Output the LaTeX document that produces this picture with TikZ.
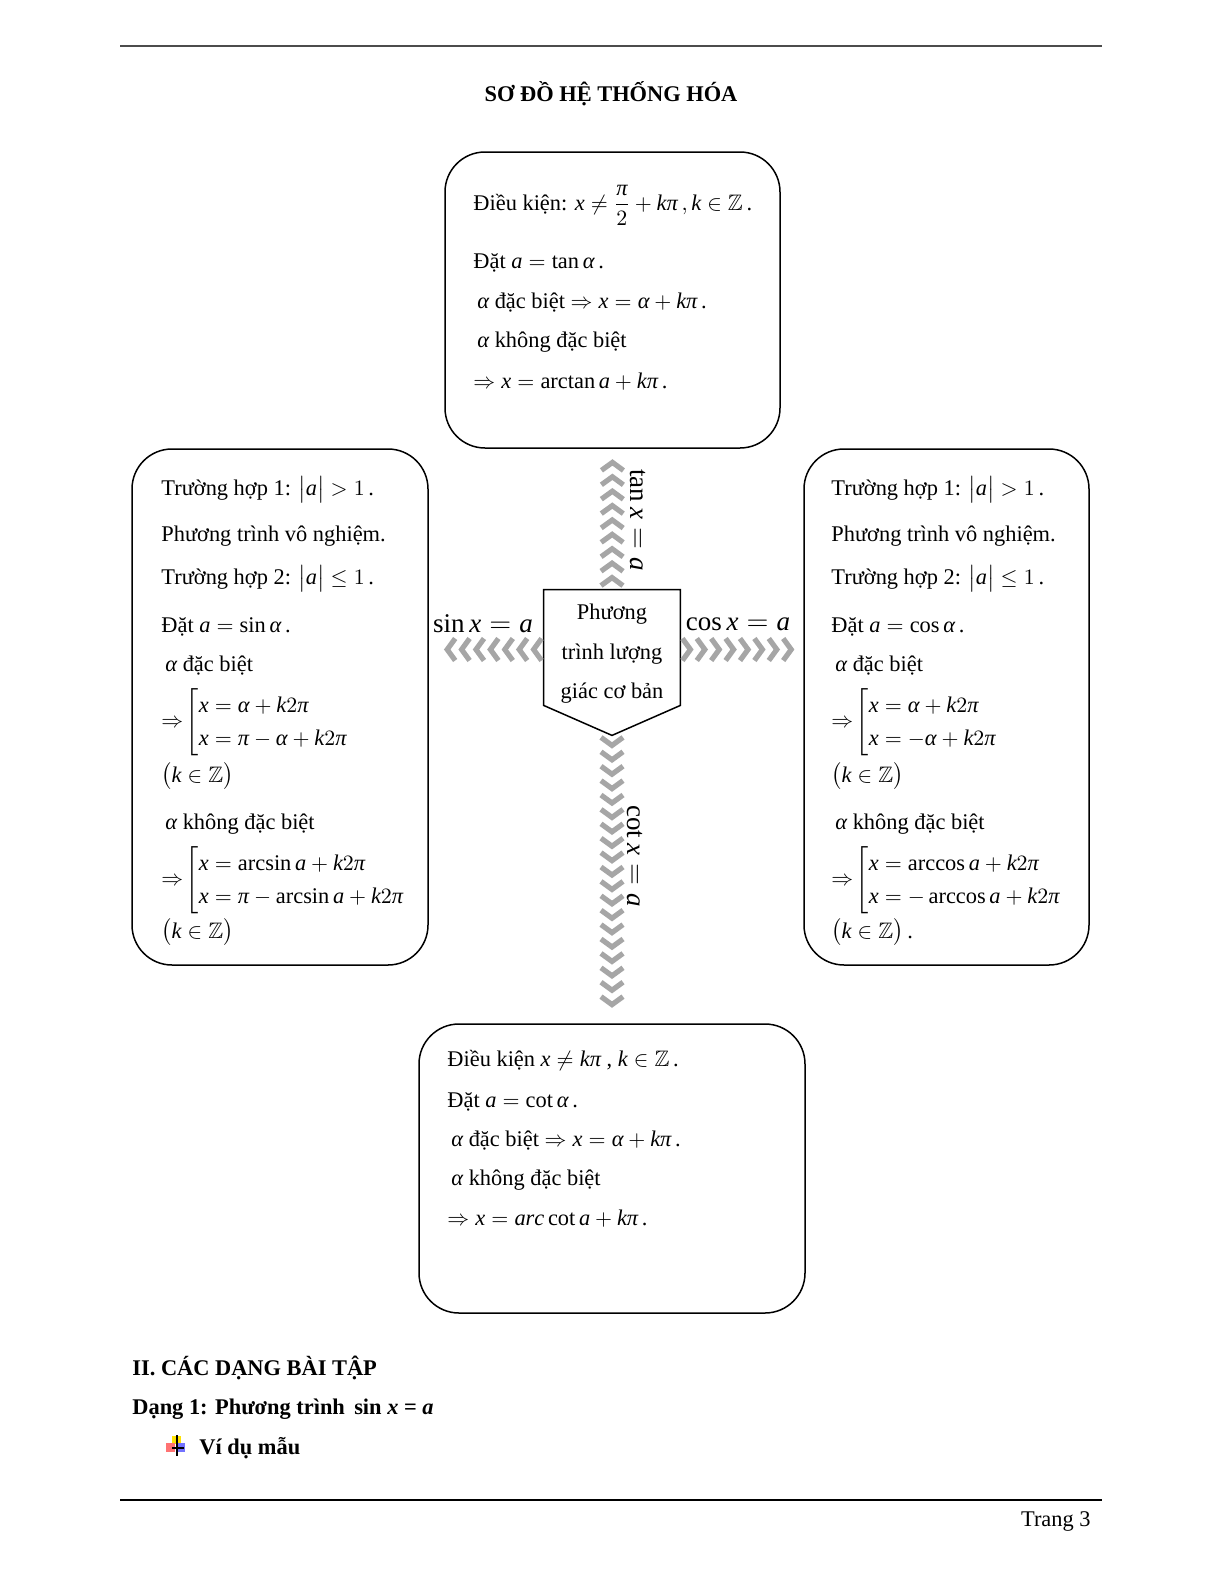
\documentclass[tikz,border=0pt]{standalone}
\usepackage{amsmath,amssymb}
\usepackage{fontspec}
\setmainfont{Liberation Serif}[NFSSFamily=libser]
\DeclareSymbolFont{timesit}{TU}{libser}{m}{it}
\Umathcode`\a="7 \symtimesit `\a
\Umathcode`\c="7 \symtimesit `\c
\Umathcode`\k="7 \symtimesit `\k
\Umathcode`\r="7 \symtimesit `\r
\Umathcode`\x="7 \symtimesit `\x
\Umathchardef\alpha="7 \symtimesit "03B1
\Umathchardef\pi="7 \symtimesit "03C0
\usetikzlibrary{calc,decorations.markings}
\definecolor{xam}{HTML}{A6A6A6}
\renewcommand{\arraystretch}{1.23}

\tikzset{
  khung/.style={draw, line width=0.75pt, rounded corners=20pt},
  dong/.style={anchor=base west, inner sep=0pt, font=\fontsize{11.2}{13.4}\selectfont},
  he/.style={anchor=west, inner sep=0pt, font=\fontsize{11.2}{13.4}\selectfont},
  nhan/.style={inner sep=0pt, font=\fontsize{13.5}{16}\selectfont},
  dam/.style={anchor=base west, inner sep=0pt, font=\fontsize{11.2}{13.4}\selectfont\bfseries},
  muiten/.style={decoration={markings, mark=between positions 0 and 1 step 7.2pt with {\draw[xam, line width=2.6pt] (-4pt,5.5pt) -- (0pt,0pt) -- (-4pt,-5.5pt);}}, decorate},
}

\begin{document}
\begin{tikzpicture}[x=0.5pt, y=-0.5pt]
  \fill[white] (0,0) rectangle (1224,1584);
  \useasboundingbox (0,0) rectangle (1224,1584);

  % DAU TRANG
  \draw[gray!60!black, line width=1pt] (120,46.5) -- (1102,46.5);
  \node[dam, anchor=base] (title) at (611,102) {SƠ ĐỒ HỆ THỐNG HÓA};

  % CAC KHUNG
  \node[khung, minimum width=167.5pt, minimum height=148pt] (tanbox) at (612.5,300) {};
  \node[khung, minimum width=148pt, minimum height=258pt] (sinbox) at (280,707) {};
  \node[khung, minimum width=142.5pt, minimum height=258pt] (cosbox) at (946.5,707) {};
  \node[khung, minimum width=193pt, minimum height=144.5pt] (cotbox) at (612,1168.5) {};

  % O GIUA
  \node[minimum width=68pt, minimum height=57.5pt, inner sep=0pt] (core) at (612,647.5) {};
  \coordinate (coretip) at ($(core.south)+(0,30)$);
  \draw[line width=0.75pt] (core.north west) -- (core.north east) -- (core.south east) -- (coretip) -- (core.south west) -- cycle;
  \node[align=center, inner sep=0pt, font=\fontsize{11.2}{19.75}\selectfont] (coretext) at (612,654) {Phương\\trình lượng\\giác cơ bản};

  % MUI TEN
  \path[muiten] ($(core.north)+(0,-12)$) -- ($(tanbox.south)+(0,6)$);
  \path[muiten] ($(core.west)+(-10,2)$) -- ($(sinbox.east |- core.west)+(6,2)$);
  \path[muiten] ($(core.east)+(10,2)$) -- ($(cosbox.west |- core.east)+(-6,2)$);
  \path[muiten] ($(coretip)+(0,10)$) -- ($(cotbox.north)+(0,-6)$);

  \node[nhan, rotate=-90] (lbtan) at (638,520) {$\tan x=a$};
  \node[nhan] (lbsin) at (483,624) {$\sin x=a$};
  \node[nhan] (lbcos) at (738,624) {$\cos x=a$};
  \node[nhan, rotate=-90] (lbcot) at (635,856) {$\cot x=a$};

  % KHUNG TREN
  \node[dong] (tan1) at (473,210) {Điều kiện: $x\ne\dfrac{\pi}{2}+k\pi\,,k\in\mathbb{Z}$\,.};
  \node[dong] (tan2) at (473,268) {Đặt $a=\tan\alpha$\,.};
  \node[dong] (tan3) at (477,308) {$\alpha$ đặc biệt $\Rightarrow x=\alpha+k\pi$\,.};
  \node[dong] (tan4) at (477,347) {$\alpha$ không đặc biệt};
  \node[dong] (tan5) at (473,388) {$\Rightarrow x=\arctan a+k\pi$\,.};

  % KHUNG TRAI
  \node[dong] (sin1) at (161,495) {Trường hợp 1: $\bigl|a\bigr|>1$\,.};
  \node[dong] (sin2) at (161,541) {Phương trình vô nghiệm.};
  \node[dong] (sin3) at (161,584) {Trường hợp 2: $\bigl|a\bigr|\le 1$\,.};
  \node[dong] (sin4) at (161,632) {Đặt $a=\sin\alpha$\,.};
  \node[dong] (sin5) at (165,671) {$\alpha$ đặc biệt};
  \node[he] (sin6) at (161,722) {$\Rightarrow\!\left[\begin{array}{@{}l}x=\alpha+k2\pi\\ x=\pi-\alpha+k2\pi\end{array}\right.$};
  \node[dong] (sin7) at (161,782) {$\bigl(k\in\mathbb{Z}\bigr)$};
  \node[dong] (sin8) at (165,829) {$\alpha$ không đặc biệt};
  \node[he] (sin9) at (161,880) {$\Rightarrow\!\left[\begin{array}{@{}l}x=\arcsin a+k2\pi\\ x=\pi-\arcsin a+k2\pi\end{array}\right.$};
  \node[dong] (sin10) at (161,938) {$\bigl(k\in\mathbb{Z}\bigr)$};

  % KHUNG PHAI
  \node[dong] (cos1) at (831,495) {Trường hợp 1: $\bigl|a\bigr|>1$\,.};
  \node[dong] (cos2) at (831,541) {Phương trình vô nghiệm.};
  \node[dong] (cos3) at (831,584) {Trường hợp 2: $\bigl|a\bigr|\le 1$\,.};
  \node[dong] (cos4) at (831,632) {Đặt $a=\cos\alpha$\,.};
  \node[dong] (cos5) at (835,671) {$\alpha$ đặc biệt};
  \node[he] (cos6) at (831,722) {$\Rightarrow\!\left[\begin{array}{@{}l}x=\alpha+k2\pi\\ x=-\alpha+k2\pi\end{array}\right.$};
  \node[dong] (cos7) at (831,782) {$\bigl(k\in\mathbb{Z}\bigr)$};
  \node[dong] (cos8) at (835,829) {$\alpha$ không đặc biệt};
  \node[he] (cos9) at (831,880) {$\Rightarrow\!\left[\begin{array}{@{}l}x=\arccos a+k2\pi\\ x=-\arccos a+k2\pi\end{array}\right.$};
  \node[dong] (cos10) at (831,938) {$\bigl(k\in\mathbb{Z}\bigr)$\,.};

  % KHUNG DUOI
  \node[dong] (cot1) at (447,1066) {Điều kiện $x\ne k\pi$ , $k\in\mathbb{Z}$\,.};
  \node[dong] (cot2) at (447,1107) {Đặt $a=\cot\alpha$\,.};
  \node[dong] (cot3) at (451,1146) {$\alpha$ đặc biệt $\Rightarrow x=\alpha+k\pi$\,.};
  \node[dong] (cot4) at (451,1185) {$\alpha$ không đặc biệt};
  \node[dong] (cot5) at (447,1225) {$\Rightarrow x=arc\cot a+k\pi$\,.};

  % PHAN DUOI TRANG
  \node[dam] (muc2) at (132,1375) {II. CÁC DẠNG BÀI TẬP};
  \node[dam] (dang1) at (132,1414) {Dạng 1: Phương trình \,sin \textit{x} = \textit{a}};
  \fill[yellow!85!orange] (172,1436) rectangle (181,1444);
  \fill[red!55] (166,1443) rectangle (175,1452);
  \fill[blue!55] (177,1443) rectangle (185,1452);
  \draw[line width=1.2pt] (177,1435) -- (177,1456);
  \draw[line width=1.2pt] (172,1448) -- (184,1448);
  \node[dam] (vidu) at (199,1454) {Ví dụ mẫu};

  \draw[line width=1pt] (120,1500) -- (1102,1500);
  \node[dong, anchor=base east] (trang) at (1091,1526) {Trang 3};
\end{tikzpicture}
\end{document}
